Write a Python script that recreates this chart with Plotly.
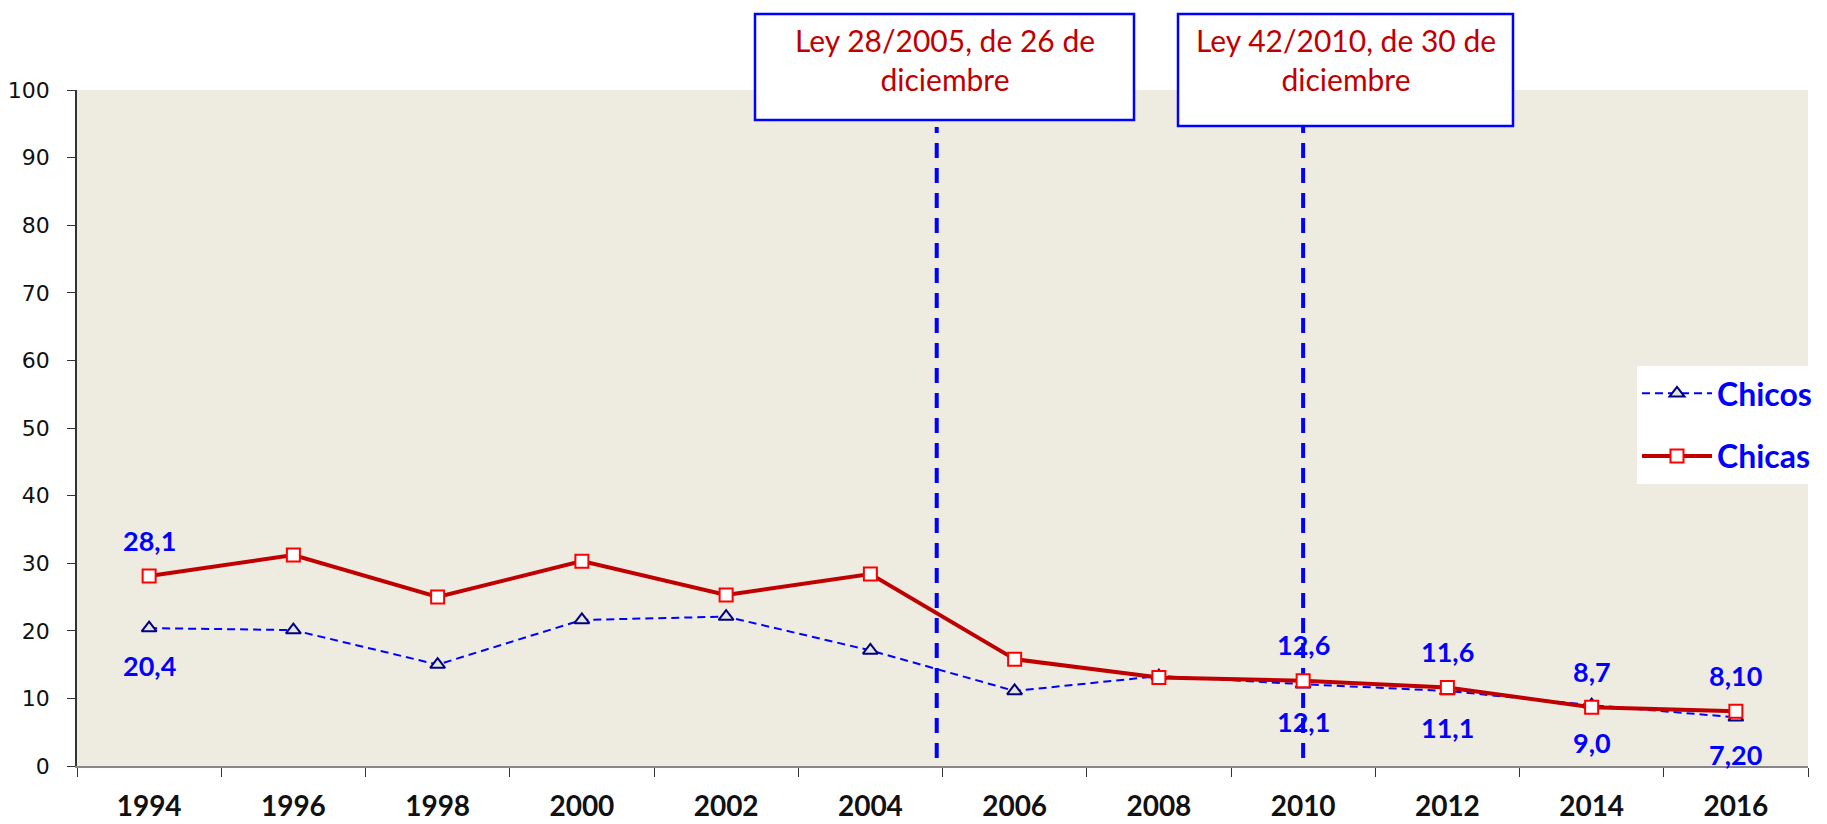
import plotly.graph_objects as go

years = ["1994", "1996", "1998", "2000", "2002", "2004", "2006", "2008", "2010", "2012", "2014", "2016"]
chicos = [20.4, 20.1, 15.0, 21.6, 22.1, 17.1, 11.1, 13.3, 12.1, 11.1, 9.0, 7.2]
chicas = [28.1, 31.2, 25.0, 30.3, 25.3, 28.4, 15.8, 13.1, 12.6, 11.6, 8.7, 8.1]
chicos_labels = ["20,4", "", "", "", "", "", "", "", "12,1", "11,1", "9,0", "7,20"]
chicas_labels = ["28,1", "", "", "", "", "", "", "", "12,6", "11,6", "8,7", "8,10"]
law_texts = ["Ley 28/2005, de 26 de<br>diciembre", "Ley 42/2010, de 30 de<br>diciembre"]
law_x = [5.46, 8.0]

# page body has an 8px margin; figure is drawn at (8, 8) in the window
OFF = 8
WIN_W, WIN_H = 1827, 824
W, H = WIN_W - OFF, WIN_H - OFF
# target plot area in window pixels
PL, PR, PT, PB = 77, 1808, 90, 766
L, R, T, B = PL - OFF, W - (PR - OFF), PT - OFF, H - (PB - OFF)
pw, ph = W - L - R, H - T - B

def px_x(p):
    return (p - OFF - L) / pw

def px_y(p):
    return (H - B - (p - OFF)) / ph

idx = list(range(len(years)))

fig = go.Figure()
fig.add_trace(go.Scatter(
    x=years, y=chicos, name="Chicos", mode="lines+markers", legendgroup="a",
    line=dict(color="#0000FF", width=2, dash="8px,5px"),
    marker=dict(symbol="triangle-up", size=13, color="#E6E4DA",
                line=dict(color="#000080", width=2)),
))
fig.add_trace(go.Scatter(
    x=years, y=chicas, name="Chicas", mode="lines+markers", legendgroup="b",
    line=dict(color="#C00000", width=4),
    marker=dict(symbol="square", size=13, color="#FFFFFF",
                line=dict(color="#FF0000", width=2)),
))

lab_font = dict(family="Lato", size=27, color="#0000FF", weight="bold")
annots = []
for i, v, t in zip(idx, chicas, chicas_labels):
    if t:
        annots.append(dict(x=i, y=v, xref="x", yref="y", text=t, showarrow=False,
                           yshift=36, font=lab_font))
for i, v, t in zip(idx, chicos, chicos_labels):
    if t:
        annots.append(dict(x=i, y=v, xref="x", yref="y", text=t, showarrow=False,
                           yshift=-37, font=lab_font))

shapes = []
for lx in law_x:
    shapes.append(dict(type="line", xref="x", yref="paper", x0=lx, x1=lx,
                       y0=px_y(758), y1=px_y(127), layer="below",
                       line=dict(color="#0000FF", width=4, dash="15px,10px")))

boxes = [(755, 1134, 14, 120), (1178, 1513, 14, 126)]
for t, (x0, x1, y0, y1) in zip(law_texts, boxes):
    shapes.append(dict(type="rect", xref="paper", yref="paper",
                       x0=px_x(x0), x1=px_x(x1), y0=px_y(y1), y1=px_y(y0),
                       fillcolor="#FFFFFF", line=dict(color="#0000FF", width=2.5),
                       layer="above"))
    annots.append(dict(x=px_x((x0 + x1) / 2), y=px_y(20), xref="paper", yref="paper",
                       xanchor="center", yanchor="top", text=t, showarrow=False,
                       align="center",
                       font=dict(family="Lato", size=30, color="#C00000")))

fig.update_layout(
    width=W, height=H,
    margin=dict(l=L, r=R, t=T, b=B, autoexpand=False),
    paper_bgcolor="#FFFFFF", plot_bgcolor="#EEECE1",
    showlegend=True,
    legend=dict(x=px_x(1637), y=px_y(366), xanchor="left", yanchor="top",
                bgcolor="#FFFFFF", borderwidth=0, itemwidth=70,
                traceorder="grouped", tracegroupgap=18,
                font=dict(family="Lato", size=32, color="#0000FF", weight="bold")),
    annotations=annots, shapes=shapes,
    xaxis=dict(type="category", categoryorder="array", categoryarray=years,
               range=[-0.5, 11.5], tickson="boundaries", ticks="outside", ticklen=9,
               tickcolor="#333333", showline=True, linecolor="#888888", linewidth=1.5,
               showgrid=False, zeroline=False, ticklabelstandoff=15,
               tickfont=dict(family="Lato", size=28, color="#111111", weight="bold")),
    yaxis=dict(range=[0, 100], tickvals=list(range(0, 101, 10)), ticks="outside", ticklen=8,
               tickcolor="#333333", showline=True, linecolor="#333333", linewidth=1.5,
               showgrid=False, zeroline=False, ticklabelstandoff=13,
               tickfont=dict(family="DejaVu Sans", size=22, color="#111111")),
)

fig.write_html("out.html")
